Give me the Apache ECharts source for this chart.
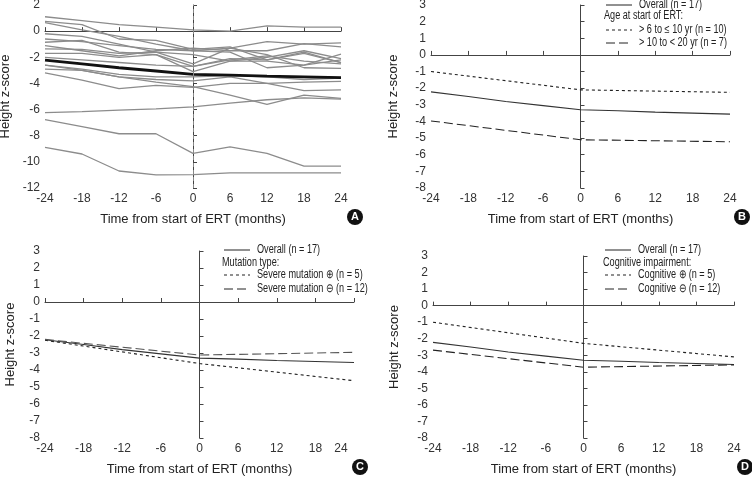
<!DOCTYPE html>
<html>
<head>
<meta charset="utf-8">
<script src="https://cdn.jsdelivr.net/npm/echarts@6/dist/echarts.min.js"></script>
<style>
  html, body { margin: 0; padding: 0; background: #fff; }
  #wrap { position: relative; width: 752px; height: 477px; }
  .panel { position: absolute; }
</style>
</head>
<body>
<div id="wrap">
  <div class="panel" id="pa" style="left:0;top:0;width:376px;height:237px"></div>
  <div class="panel" id="pb" style="left:376px;top:0;width:376px;height:237px"></div>
  <div class="panel" id="pc" style="left:0;top:237px;width:376px;height:240px"></div>
  <div class="panel" id="pd" style="left:376px;top:237px;width:376px;height:240px"></div>
</div>
<script>
// months from start of ERT
const months = [-24, -18, -12, -6, 0, 6, 12, 18, 24];
// mean height z-score, all patients
const overall = [-2.22, -2.5, -2.8, -3.05, -3.3, -3.36, -3.44, -3.5, -3.56];
// individual patients (panel A)
const patients = [
  [1.1, 0.8, 0.5, 0.3, 0.1, 0.0, 0.4, 0.3, 0.3],
  [0.75, 0.5, -0.6, -0.7, -1.4, -1.2, -2.2, -1.6, -2.4],
  [0.65, 0.1, -0.4, -1.0, -1.5, -1.6, -2.8, -2.6, -2.2],
  [-0.2, -0.4, -1.0, -1.6, -2.5, -1.3, -1.8, -2.8, -2.85],
  [-0.6, -0.8, -1.1, -1.4, -1.5, -1.3, -0.8, -1.0, -0.9],
  [-0.85, -0.7, -1.6, -1.8, -2.7, -2.1, -2.2, -1.7, -2.4],
  [-1.1, -1.5, -1.9, -1.5, -1.3, -1.5, -1.5, -0.95, -1.2],
  [-1.35, -1.4, -1.7, -1.6, -1.8, -2.3, -2.0, -1.5, -2.1],
  [-1.7, -1.7, -2.0, -1.8, -3.1, -2.3, -2.3, -2.6, -1.75],
  [-2.0, -2.2, -2.4, -2.6, -2.7, -2.2, -1.9, -2.3, -2.5],
  [-2.6, -2.9, -3.3, -3.5, -3.5, -3.4, -3.5, -3.7, -3.6],
  [-2.9, -3.0, -3.5, -3.7, -3.8, -3.5, -4.0, -4.55, -4.5],
  [-2.6, -3.0, -3.5, -3.9, -4.25, -4.9, -5.6, -4.9, -5.15],
  [-3.2, -3.75, -4.4, -4.15, -4.3, -4.0, -4.0, -3.9, -3.85],
  [-6.23, -6.15, -6.05, -5.95, -5.8, -5.5, -5.25, -5.1, -5.2],
  [-6.77, -7.3, -7.85, -7.85, -9.35, -8.85, -9.35, -10.33, -10.33],
  [-8.9, -9.4, -10.7, -11.0, -10.97, -10.85, -10.85, -10.85, -10.85]
];
// subgroup means (panels B-D) at -24, 0 and 24 months
const groupMonths = [-24, 0, 24];
const ageSixToTen = [-1.0, -2.1, -2.25];
const ageTenToTwenty = [-3.97, -5.1, -5.22];
const severePos = [-2.25, -3.62, -4.63];
const severeNeg = [-2.2, -3.12, -2.96];
const cognitivePos = [-1.0, -2.28, -3.1];
const cognitiveNeg = [-2.69, -3.72, -3.58];
// top end of the dotted line at month 0 in panels B-D
const startLineTop = 0.75;

const FONT = '"Liberation Sans", Arial, sans-serif';
const AXIS_COLOR = '#444';
const SHORT_DASH = [3, 3];
const LONG_DASH = [9, 4];

function pairs(xs, ys) {
  return xs.map((x, i) => [x, ys[i]]);
}

function gridAt(left, top, width, height) {
  return { left: left, top: top, width: width, height: height, outerBoundsMode: 'none', containLabel: false };
}

function xAxisOpt(extra) {
  return Object.assign({
    type: 'value', min: -24, max: 24, interval: 6,
    name: 'Time from start of ERT (months)',
    nameLocation: 'middle', nameGap: 25,
    nameTextStyle: { fontSize: 13, color: '#222', fontFamily: FONT },
    axisLine: { show: true, lineStyle: { color: AXIS_COLOR } },
    axisTick: { show: true, inside: true, length: 4, lineStyle: { color: AXIS_COLOR } },
    axisLabel: { fontSize: 12, color: '#333', margin: 5, fontFamily: FONT },
    splitLine: { show: false }
  }, extra || {});
}

function yAxisOpt(min, max, step, gap) {
  return {
    type: 'value', min: min, max: max, interval: step,
    name: 'Height z-score',
    nameLocation: 'middle', nameGap: gap, nameRotate: 90,
    nameTextStyle: { fontSize: 13, color: '#222', fontFamily: FONT },
    axisLine: { show: true, lineStyle: { color: AXIS_COLOR } },
    axisTick: { show: true, inside: true, length: 4, lineStyle: { color: AXIS_COLOR } },
    axisLabel: { fontSize: 12, color: '#333', margin: 5, fontFamily: FONT },
    splitLine: { show: false }
  };
}

function badge(letter, cx, cy) {
  return {
    type: 'group',
    children: [
      { type: 'circle', shape: { cx: cx, cy: cy, r: 8 }, style: { fill: '#111' } },
      { type: 'text', x: cx, y: cy, style: { text: letter, fill: '#fff', font: 'bold 11px Arial', align: 'center', verticalAlign: 'middle' } }
    ]
  };
}

function groupLine(name, xs, ys, dash, color) {
  return {
    name: name, type: 'line', data: pairs(xs, ys), symbol: 'none', silent: true,
    lineStyle: { color: color || '#222', width: 1.1, type: dash }
  };
}

function startMark() {
  return {
    symbol: 'none', silent: true, label: { show: false },
    lineStyle: { color: '#444', width: 1, type: [2, 3] },
    data: [[{ coord: [0, -8] }, { coord: [0, startLineTop] }]]
  };
}

// key in the upper right: overall row, a heading, two subgroup rows
function legendKey(x0, textX, rows, heading, names) {
  const label = (text, x, y) => ({
    type: 'text', x: x, y: y, scaleX: 0.76,
    style: { text: text, fill: '#222', font: '12px ' + FONT, verticalAlign: 'middle' }
  });
  const sample = (y, dash) => ({
    type: 'line', shape: { x1: x0, y1: y, x2: x0 + 26, y2: y },
    style: { stroke: '#222', lineWidth: 1, lineDash: dash }
  });
  return [
    sample(rows[0], null), label(names[0], textX, rows[0]),
    label(heading, x0 - 2, rows[1]),
    sample(rows[2], SHORT_DASH), label(names[1], textX, rows[2]),
    sample(rows[3], LONG_DASH), label(names[2], textX, rows[3])
  ];
}

// ---- panel A
const chartA = echarts.init(document.getElementById('pa'));
const seriesA = patients.map((vals) => ({
  type: 'line', data: pairs(months, vals), symbol: 'none', silent: true, z: 2,
  lineStyle: { color: '#8c8c8c', width: 1.3 }
}));
seriesA.push({
  name: 'Mean', type: 'line', data: pairs(months, overall), symbol: 'none', silent: true, z: 3,
  lineStyle: { color: '#111', width: 2.8 },
  markLine: {
    symbol: 'none', silent: true, label: { show: false },
    lineStyle: { color: '#888', width: 1, type: [4, 3] },
    data: [{ xAxis: 0 }]
  }
});
chartA.setOption({
  animation: false,
  grid: gridAt(45, 5, 296, 183),
  xAxis: xAxisOpt(),
  yAxis: yAxisOpt(-12, 2, 2, 28),
  graphic: [badge('A', 355, 217)],
  series: seriesA
});

// ---- panel B
const chartB = echarts.init(document.getElementById('pb'));
const namesB = ['Overall (n = 17)', '> 6 to \u2264 10 yr (n = 10)', '> 10 to < 20 yr (n = 7)'];
chartB.setOption({
  animation: false,
  grid: gridAt(55, 5, 299, 183),
  xAxis: xAxisOpt(),
  yAxis: yAxisOpt(-8, 3, 1, 31),
  graphic: legendKey(230, 263, [5, 16, 30, 43], 'Age at start of ERT:', namesB).concat([badge('B', 366, 217)]),
  series: [
    Object.assign(groupLine(namesB[0], months, overall, 'solid', '#333'), { markLine: startMark() }),
    groupLine(namesB[1], groupMonths, ageSixToTen, SHORT_DASH),
    groupLine(namesB[2], groupMonths, ageTenToTwenty, LONG_DASH)
  ]
});

// ---- panel C
const chartC = echarts.init(document.getElementById('pc'));
const namesC = ['Overall (n = 17)', 'Severe mutation \u2295 (n = 5)', 'Severe mutation \u2296 (n = 12)'];
chartC.setOption({
  animation: false,
  grid: gridAt(45, 14, 309, 187),
  xAxis: xAxisOpt({
    nameGap: 25,
    axisLabel: {
      fontSize: 12, color: '#333', margin: 5, fontFamily: FONT,
      formatter: (v) => (v === 24 ? '{s|24}' : String(v)),
      rich: { s: { fontSize: 12, color: '#333', fontFamily: FONT, padding: [0, 26, 0, 0] } }
    }
  }),
  yAxis: yAxisOpt(-8, 3, 1, 28),
  graphic: legendKey(224, 257, [13, 26, 38, 52], 'Mutation type:', namesC).concat([badge('C', 360, 230)]),
  series: [
    Object.assign(groupLine(namesC[0], months, overall, 'solid', '#333'), { markLine: startMark() }),
    groupLine(namesC[1], groupMonths, severePos, SHORT_DASH),
    groupLine(namesC[2], groupMonths, severeNeg, LONG_DASH, '#555')
  ]
});

// ---- panel D
const chartD = echarts.init(document.getElementById('pd'));
const namesD = ['Overall (n = 17)', 'Cognitive \u2295 (n = 5)', 'Cognitive \u2296 (n = 12)'];
chartD.setOption({
  animation: false,
  grid: gridAt(57, 19, 301, 182),
  xAxis: xAxisOpt({ nameGap: 25 }),
  yAxis: yAxisOpt(-8, 3, 1, 32),
  graphic: legendKey(229, 262, [13, 26, 38, 52], 'Cognitive impairment:', namesD).concat([badge('D', 369, 230)]),
  series: [
    Object.assign(groupLine(namesD[0], months, overall, 'solid', '#333'), { markLine: startMark() }),
    groupLine(namesD[1], groupMonths, cognitivePos, SHORT_DASH),
    groupLine(namesD[2], groupMonths, cognitiveNeg, LONG_DASH)
  ]
});
</script>
</body>
</html>
